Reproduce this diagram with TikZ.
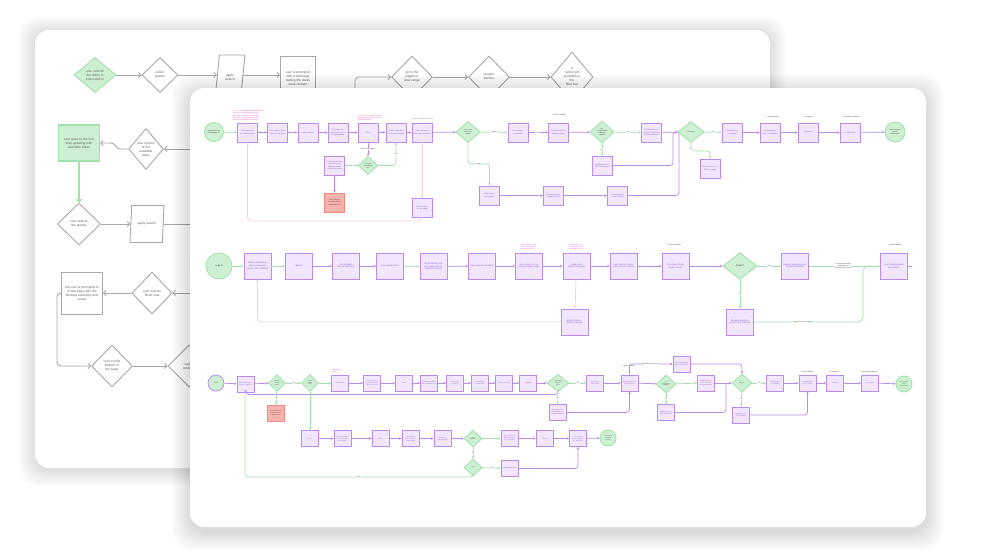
\documentclass[tikz,border=0pt]{standalone}
\usepackage{fontspec}
\setmainfont{Liberation Sans}
\usetikzlibrary{shapes.geometric,arrows.meta}
\definecolor{pfill}{HTML}{F1E6FD}
\definecolor{pdraw}{HTML}{B98CEB}
\definecolor{ptext}{HTML}{8E5BD0}
\definecolor{gfill}{HTML}{CDEFD2}
\definecolor{gdraw}{HTML}{A2E0AC}
\definecolor{rfill}{HTML}{F8B4AC}
\definecolor{rdraw}{HTML}{EE8A7E}
\definecolor{pinktext}{HTML}{EE4FC4}
\definecolor{pinkline}{HTML}{F5D3D0}
\definecolor{grayline}{HTML}{A8A8A8}
\definecolor{graytext}{HTML}{666666}
\tikzset{
  pbox/.style={rectangle, draw=pdraw, fill=pfill, line width=0.85pt, inner sep=0.5pt, align=center, text=ptext, font=\fontsize{1.9}{2.3}\selectfont},
  pA/.style={pbox, minimum width=20pt, minimum height=19pt, text width=18pt},
  pB/.style={pbox, minimum width=27pt, minimum height=26pt, text width=25pt, font=\fontsize{2.2}{2.7}\selectfont},
  pC/.style={pbox, minimum width=17pt, minimum height=16pt, text width=15.5pt, font=\fontsize{1.6}{2}\selectfont},
  rbox/.style={fill=rfill, draw=rdraw, text=black!70},
  gdia/.style={diamond, draw=gdraw, fill=gfill, line width=0.8pt, inner sep=0pt, align=center, text=black!75, font=\fontsize{1.6}{2}\selectfont},
  gcirc/.style={circle, draw=gdraw, fill=gfill, line width=0.8pt, inner sep=0pt, align=center, text=black!75, font=\fontsize{1.8}{2.2}\selectfont},
  pl/.style={draw=pdraw, line width=0.7pt},
  gl/.style={draw=gdraw, line width=0.7pt},
  kl/.style={draw=pinkline, line width=0.8pt},
  arr/.style={-{Stealth[length=2.4pt,width=2.6pt]}},
  lbl/.style={font=\fontsize{1.8}{2.2}\selectfont, text=black!70, fill=white, inner sep=0.4pt, align=center},
  note/.style={font=\fontsize{1.8}{2.2}\selectfont, text=pinktext, align=left, inner sep=0pt},
  hdr/.style={font=\fontsize{1.8}{2.2}\selectfont, text=black!75, inner sep=0pt},
  bl/.style={draw=grayline, line width=0.9pt},
  barr/.style={-{Straight Barb[length=2.5pt,width=5pt]}},
  bdia/.style={diamond, draw=grayline, fill=white, line width=0.9pt, inner sep=0pt, align=center, text=graytext, font=\fontsize{3.3}{4}\selectfont},
  brect/.style={rectangle, draw=grayline, fill=white, line width=0.9pt, inner sep=1pt, align=center, text=graytext, font=\fontsize{3.3}{4}\selectfont},
  bpar/.style={trapezium, trapezium left angle=72, trapezium right angle=108, trapezium stretches=true, draw=grayline, fill=white, line width=0.9pt, inner sep=0pt, align=center, text=graytext, font=\fontsize{3.3}{4}\selectfont},
}
\begin{document}
\begin{tikzpicture}[x=1pt,y=-1pt]
\useasboundingbox (0,0) rectangle (987,557);
\fill[white] (0,0) rectangle (987,557);
% ---------- back card ----------
\foreach \i in {1,...,16}{
  \fill[black,opacity=0.006,rounded corners=18pt] (35-\i,30-\i+2) rectangle (770+\i,468+\i+2);
}
\fill[white, rounded corners=14pt] (35,30) rectangle (770,468);

\node[bdia, fill=gfill, draw=gdraw, minimum width=42pt, minimum height=35pt] (bk1) at (95,75) {user selects\\the dates is\\interested in};
\node[bdia, minimum width=36pt, minimum height=35pt] (bk2) at (160,75) {select\\guests};
\node[bpar, minimum width=30pt, minimum height=44pt] (bk3) at (230,77) {apply\\search};
\node[brect, minimum width=35pt, minimum height=44pt] (bk4) at (298,78) {user is prompted\\with a message\\stating the dates\\were chosen};
\draw[bl,barr] (bk1.east) -- (bk2.west);
\draw[bl,barr] (bk2.east) -- (bk3.west |- bk2.east);
\draw[bl,barr] (bk3.east |- bk2.east) -- (bk4.west |- bk2.east);
\node[bdia, minimum width=41pt, minimum height=42pt] (bk5) at (412,77) {go to the\\pages to\\view range};
\node[bdia, minimum width=41pt, minimum height=42pt] (bk6) at (489,77) {coupon\\banner};
\node[bdia, minimum width=42pt, minimum height=50pt] (bk7) at (572,77) {a\\callout pill\\is shown in\\the\\filter bar};
\coordinate (bkin) at (355,100);
\draw[bl,barr,rounded corners=4pt] (bkin) |- (bk5.west);
\draw[bl,barr] (bk5.east) -- (bk6.west);
\draw[bl,barr] (bk6.east) -- (bk7.west);

\node[brect, fill=gfill, draw=gdraw, line width=1.2pt, minimum width=41pt, minimum height=36pt] (bk8) at (79,143) {user goes to the first\\step updating with\\available dates};
\node[bdia, minimum width=35pt, minimum height=41pt] (bk9) at (146,149) {user notices\\of the\\available\\dates};
\coordinate (bk9in) at (195,149);
\draw[bl,barr] (bk9in) -- (bk9.east);
\draw[bl,barr] (bk9.west) -- (121,149) .. controls (114,149) and (117,143) .. (110,143) -- (bk8.east);
\node[bdia, minimum width=43pt, minimum height=42pt] (bk10) at (79,224) {user selects\\the guests};
\draw[draw=gdraw, line width=1.2pt, barr] (bk8.south) -- (bk10.north);
\node[bpar, minimum width=34pt, minimum height=37pt] (bk11) at (147,224) {apply search};
\coordinate (bk11out) at (195,224);
\draw[bl,barr] (bk10.east) -- (bk11.west);
\draw[bl] (bk11.east) -- (bk11out);

\node[brect, minimum width=41pt, minimum height=42pt] (bk12) at (82,293) {the user is prompted to\\a new page with the\\booking summary and\\extras};
\node[bdia, minimum width=40pt, minimum height=42pt] (bk13) at (152,293) {user selects\\Book now};
\coordinate (bk13in) at (195,293);
\draw[bl,barr] (bk13in) -- (bk13.east);
\draw[bl,barr] (bk13.west) -- (bk12.east);
\node[bdia, minimum width=41pt, minimum height=42pt] (bk14) at (112,366) {user scrolls\\bottom of\\the page};
\node[bdia, minimum width=42pt, minimum height=42pt] (bk15) at (189,366) {select\\continue};
\draw[bl,barr,rounded corners=4pt] (bk12.west) -- (57,293) |- (bk14.west);
\draw[bl,barr] (bk14.east) -- (bk15.west);

% ---------- front card ----------
\foreach \i in {1,...,18}{
  \fill[black,opacity=0.007,rounded corners=20pt] (190-\i,88-\i+4) rectangle (926+\i,527+\i+5);
}
\fill[white, rounded corners=14pt] (190,88) rectangle (926,527);

% ===== Row A =====
\node[gcirc, minimum size=19pt] (aS) at (214,132) {User arrives on\\Homepage url};
\node[pA] (a1) at (247.5,132.5) {User lands on the landing page};
\node[pA] (a2) at (277.5,132.5) {User selects dates and room guests};
\node[pA] (a3) at (308,132.5) {Select search};
\node[pA] (a4) at (338,132.5) {The page displays the property available dates};
\node[pA] (a5) at (368,132.5) {Filters};
\node[pA] (a6) at (396,132.5) {Results displayed as tiles with images};
\node[pA] (a7) at (422,132.5) {User selects a room (views details)};
\node[gdia, minimum width=25pt, minimum height=21pt] (aD1) at (468,132) {User needs\\account to\\register};
\node[pA] (a8) at (518,132.5) {User creates an account};
\node[pA] (a9) at (558.5,132.5) {User fills/confirms booking details};
\node[gdia, minimum width=24pt, minimum height=22pt] (aD2) at (602,132) {Any\\changes made\\to booking\\details?};
\node[pA] (a10) at (651.5,132.5) {Booking price is shown as total with all fees and taxes};
\node[pA] (a11) at (602,165.5) {Booking price is NOT discounted};
\node[gdia, minimum width=26pt, minimum height=21pt] (aD3) at (691,132) {Discount?};
\node[pA] (a12) at (732,132.5) {Booking price is changed};
\node[pA] (a13) at (770,132.5) {List breakdown price / the details};
\node[pA] (a14) at (808,132.5) {Payment};
\node[pA] (a15) at (850,132.5) {Confirmation};
\node[gcirc, minimum size=20pt] (aE) at (895,132) {User receives\\email\\confirmation};
\node[pA] (a16) at (710,168.5) {Booking price is NOT changed};
\node[pA] (a17) at (489.5,195.5) {User enters login details};
\node[pA] (a18) at (553.5,195.5) {Successful login details shown};
\node[pA] (a19) at (617.5,195.5) {Booking price is discounted};
\node[gdia, minimum width=20pt, minimum height=18pt] (aD4) at (368,165.5) {First time\\user landing\\on?};
\node[pA] (a20) at (334.5,165.5) {Guest can proceed using the same booking details to the next stage};
\node[pA, rbox] (aR) at (334.5,202.5) {User follows the hotel link to respective site};
\node[pA] (a21) at (422,208) {Offers shown on the page};

\node[note, anchor=south west] (nA1) at (233,121) {Note: the booking process is different\\from the one stated below if the\\user has an account, they will be\\directed to the dashboard, once\\the user is logged in to the site};
\node[note, anchor=south west] (nA2) at (358,121) {Note: the user will land on the\\property page with the dates\\selected already};
\node[hdr, anchor=south west, text=black!55] (nA3) at (412,120) {Get to room options of the};
\node[hdr] (hA1) at (559,115) {1. Check holiday};
\node[hdr] (hA2) at (772,117) {2. Guest details};
\node[hdr] (hA3) at (808,117) {3. Payment};
\node[hdr] (hA4) at (851,117) {4. Booking confirmed};

\draw[gl,arr] (aS) -- (a1);
\draw[pl,arr] (a1) -- (a2);
\draw[pl,arr] (a2) -- (a3);
\draw[pl,arr] (a3) -- (a4);
\draw[pl,arr] (a4) -- (a5);
\draw[pl,arr] (a5) -- (a6);
\draw[pl,arr] (a6) -- (a7);
\draw[pl,arr] (a7) -- (aD1);
\draw[gl,arr] (aD1) -- node[lbl] {Register} (a8);
\draw[pl,arr] (a8) -- node[lbl] {Details} (a9);
\draw[pl,arr] (a9) -- (aD2);
\draw[gl,arr] (aD2) -- node[lbl] {Yes} (a10);
\draw[gl,arr] (aD2) -- node[lbl] {No} (a11);
\draw[pl,arr,rounded corners=3pt] (a11.east) -- (673,165.5) |- (aD3.west);
\draw[pl,arr] (a10) -- (aD3);
\draw[gl,arr,rounded corners=3pt] (aD1.south) -- (468,164) -| node[lbl, pos=0.25] {Login} (a17.north);
\draw[pl,arr] (a17) -- (a18);
\draw[pl,arr] (a18) -- (a19);
\draw[pl,rounded corners=3pt] (a19.east) -| (679,133);
\draw[gl,arr] (aD3) -- node[lbl] {Yes} (a12);
\draw[gl,arr,rounded corners=3pt] (aD3.south) |- node[lbl, pos=0.4] {No} (710,151) -- (a16.north);
\draw[pl,arr] (a12) -- (a13);
\draw[pl,arr] (a13) -- (a14);
\draw[pl,arr] (a14) -- (a15);
\draw[pl,arr] (a15) -- (aE);
\draw[pl,arr] (a5) -- node[lbl] {Select room dates} (aD4);
\draw[gl,arr,rounded corners=3pt] (aD4.east) -| node[lbl, pos=0.75] {Yes} (a6.south);
\draw[gl,arr] (aD4) -- node[lbl] {No} (a20);
\draw[pl,arr] (a20) -- (aR);
\draw[kl,arr] (a7) -- (a21);
\draw[kl,arr,rounded corners=4pt] (a21.south) -- (422,221) -| (a1.south);

% ===== Row B =====
\node[gcirc, minimum size=26pt, font=\fontsize{2.4}{2.9}\selectfont] (bS) at (219,266) {Logs in};
\node[pB] (b1) at (257.5,266) {Selects destination, dates and guests (adults, kids, toddlers)};
\node[pB] (b2) at (299,266) {Search};
\node[pB] (b3) at (346,266) {List of properties as tiles(card)};
\node[pB] (b4) at (390,266) {User applies filter};
\node[pB] (b5) at (433.5,266.5) {List of refined properties tiles with applied filter search};
\node[pB] (b6) at (482,266) {User selects a property};
\node[pB] (b7) at (529,266) {User arrives on selected property page};
\node[pB] (b8) at (576.5,266) {Reads room types and details};
\node[pB] (b9) at (623.5,266) {User selects a room (with rates as name)};
\node[pB] (b10) at (675.5,266) {Go to(select/total) details, extras};
\node[gdia, minimum width=34pt, minimum height=27pt, font=\fontsize{2.3}{2.8}\selectfont] (bD) at (740,266) {Details?};
\node[pB] (b11) at (795,266) {Booking summary price has been updated};
\node[pB] (b12) at (740,322) {Booking summary price is not changed};
\node[pB] (b13) at (894,266) {User details/contact form details};
\node[pB] (b14) at (574.5,322) {Adjust location, dates or guests};
\coordinate (bend) at (912,266);
\node[note, anchor=south] (nB1) at (529,250) {Make room a carrier\\when the property\\page will have all};
\node[note, anchor=south] (nB2) at (576,250) {make room info\\as show the room\\cards will have us};
\node[hdr] (hB1) at (674,245) {1. Check holiday};
\node[hdr] (hB2) at (895,245) {3. Guest details};

\draw[gl,arr] (bS) -- (b1);
\draw[gl,arr] (b1) -- (b2);
\draw[pl,arr] (b2) -- (b3);
\draw[pl,arr] (b3) -- (b4);
\draw[gl,arr] (b4) -- (b5);
\draw[pl,arr] (b5) -- (b6);
\draw[pl,arr] (b6) -- (b7);
\draw[pl,arr] (b7) -- (b8);
\draw[pl,arr] (b8) -- (b9);
\draw[pl,arr] (b9) -- (b10);
\draw[pl,arr] (b10) -- (bD);
\draw[gl,arr] (bD) -- node[lbl] {Yes} (b11);
\draw[gl,arr] (bD) -- node[lbl] {No} (b12);
\draw[gl,arr] (b11) -- node[lbl, pos=0.48] {No need/amending\\everything's ok,\\the details are correct} (b13);
\draw[gl,rounded corners=5pt] (b12.east) -- node[lbl, pos=0.45] {User clicks next button} (863,322) -- (863,266) -- (872,266);
\draw[pl] (b13) -- (bend);
\draw[kl,arr] (b8) -- (b14);
\draw[kl,arr,rounded corners=4pt] (b14.west) -| (b1.south);

% ===== Row C =====
\node[gcirc, draw=pdraw, minimum size=16pt] (cS) at (216,383) {Start};
\node[pC] (c1) at (245.5,384) {Select destination, dates and guests};
\node[gdia, minimum width=17pt, minimum height=17pt, font=\fontsize{1.3}{1.6}\selectfont] (cD1) at (277,383) {Property\\found for\\search?};
\node[gdia, minimum width=17pt, minimum height=17pt, font=\fontsize{1.3}{1.6}\selectfont] (cD2) at (310,383) {Select\\property\\page};
\node[pC] (c2) at (340,383) {Header info};
\node[pC] (c3) at (372,383) {User selects a room from available rooms list};
\node[pC] (c4) at (404,383) {Rate};
\node[pC] (c5) at (429,383) {Breakdown details of the selected room};
\node[pC] (c6) at (455,383) {User selects a property};
\node[pC] (c7) at (480,383) {List of properties as tiles};
\node[pC] (c8) at (504,383) {Select room type};
\node[pC] (c9) at (528,383) {Summary};
\node[gdia, minimum width=22pt, minimum height=17pt, font=\fontsize{1.3}{1.6}\selectfont] (cD3) at (558,383) {Is the booking\\within the\\time?};
\node[pC] (c10) at (595,383) {User selects room details};
\node[pC] (c11) at (629.5,383) {Booking summary with total price};
\node[pC] (c12) at (681.5,364) {Booking summary price is discounted};
\node[gdia, minimum width=20pt, minimum height=18pt, font=\fontsize{1.3}{1.6}\selectfont] (cD4) at (666,384) {Any\\changes made\\to booking?};
\node[pC] (c13) at (706,383) {Booking price is shown total with all fees and taxes};
\node[pC] (c14) at (666,412.5) {Booking price is NOT discounted};
\node[gdia, minimum width=20pt, minimum height=18pt, font=\fontsize{1.3}{1.6}\selectfont] (cD5) at (742,383) {Discount?};
\node[pC] (c15) at (775,383) {Booking price is changed};
\node[pC] (c16) at (741,415) {Booking price is NOT changed};
\node[pC] (c17) at (807.5,383) {List breakdown price / details};
\node[pC] (c18) at (835,383) {Payment};
\node[pC] (c19) at (870,383) {Confirmation};
\node[gcirc, minimum size=16pt, font=\fontsize{1.4}{1.7}\selectfont] (cE) at (904,384) {User receives\\email\\confirmation};
\node[pC, rbox] (cR) at (276,413) {User follows the hotel link to respective site};
\node[pC] (c20) at (557.5,412.5) {User goes to the hotel website to complete booking};
\node[note, anchor=south] (nC1) at (337,373) {Property list\\page 2};
\node[hdr] (hC1) at (628,366) {1. Guest details};
\node[hdr] (hC2) at (807,372) {2. Guest details};
\node[hdr] (hC3) at (834,372) {3. Payment};
\node[hdr] (hC4) at (869,372) {4. Booking confirmed};

\draw[pl,arr] (cS) -- (c1);
\draw[pl,arr] (c1) -- (cD1);
\draw[gl,arr] (cD1) -- node[lbl] {Yes} (cD2);
\draw[gl,arr] (cD2) -- (c2);
\draw[pl,arr] (c2) -- (c3);
\draw[pl,arr] (c3) -- (c4);
\draw[pl,arr] (c4) -- (c5);
\draw[pl,arr] (c5) -- (c6);
\draw[pl,arr] (c6) -- (c7);
\draw[pl,arr] (c7) -- (c8);
\draw[pl,arr] (c8) -- (c9);
\draw[pl,arr] (c9) -- (cD3);
\draw[gl,arr] (cD3) -- node[lbl] {Yes} (c10);
\draw[pl,arr] (c10) -- (c11);
\draw[pl,arr,rounded corners=3pt] (cD3.south) -- (558,394.5) -| (c1.south);
\draw[gl,arr] (cD3.south) -- node[lbl, pos=0.5] {No} (c20.north);
\draw[pl,arr,rounded corners=3pt] (c20.east) -| (c11.south);
\draw[pl,arr,rounded corners=3pt] (c11.north) |- node[lbl, pos=0.75] {Booking price is set to} (c12.west);
\draw[pl,arr,rounded corners=3pt] (c12.east) -| (cD5.north);
\draw[pl,arr] (c11) -- (cD4);
\draw[gl,arr] (cD4) -- node[lbl] {Yes} (c13);
\draw[gl,arr] (cD4) -- node[lbl] {No} (c14);
\draw[pl,rounded corners=3pt] (c14.east) -- (726,412.5) -- (726,383.5);
\draw[pl,arr] (c13) -- (cD5);
\draw[gl,arr] (cD5) -- node[lbl] {Yes} (c15);
\draw[gl,arr] (cD5) -- node[lbl] {No} (c16);
\draw[pl,arr,rounded corners=3pt] (c16.east) -| (c17.south);
\draw[pl,arr] (c15) -- (c17);
\draw[pl,arr] (c17) -- (c18);
\draw[pl,arr] (c18) -- (c19);
\draw[pl,arr] (c19) -- (cE);
\draw[gl,arr] (cD1) -- node[lbl] {No} (cR);

% ===== Row D =====
\node[pC] (d1) at (310,438.5) {Rooms};
\node[pC] (d2) at (342.5,438.5) {User views available rooms and room details};
\node[pC] (d3) at (380.5,438.5) {Rate};
\node[pC] (d4) at (410.5,438.5) {User selects rate based on room details};
\node[pC] (d5) at (442.5,438.5) {Room options selection};
\node[gdia, minimum width=18pt, minimum height=17pt, font=\fontsize{1.3}{1.6}\selectfont] (dD1) at (473,438.5) {Rate\\available?};
\node[pC] (d6) at (509.5,438.5) {User selects at least one room to the booking};
\node[pC] (d7) at (544.5,438.5) {Submit};
\node[pC] (d8) at (578,438.5) {User selects book summary for all details};
\node[gcirc, minimum size=16pt, font=\fontsize{1.4}{1.7}\selectfont] (dE) at (608,438) {The booking\\is sent to\\the User};
\node[gdia, minimum width=18pt, minimum height=17pt, font=\fontsize{1.3}{1.6}\selectfont] (dD2) at (473,467.5) {Limit?};
\node[pC] (d9) at (509.5,468.5) {Calculate total price};

\draw[gl,arr] (cD2) -- (d1);
\draw[pl,arr] (d1) -- (d2);
\draw[pl,arr] (d2) -- (d3);
\draw[pl,arr] (d3) -- (d4);
\draw[pl,arr] (d4) -- (d5);
\draw[pl,arr] (d5) -- (dD1);
\draw[gl,arr] (dD1) -- node[lbl] {Yes} (d6);
\draw[pl,arr] (d6) -- (d7);
\draw[pl,arr] (d7) -- (d8);
\draw[pl,arr] (d8) -- (dE);
\draw[gl,arr] (dD1) -- node[lbl] {No} (dD2);
\draw[gl,arr] (dD2) -- node[lbl] {Yes} (d9);
\draw[pl,arr,rounded corners=3pt] (d9.east) -| (d8.south);
\draw[gl,rounded corners=3pt] (dD2.south) -- (473,477) -- node[lbl] {No} (245,477) -- (245,395);
\end{tikzpicture}
\end{document}
